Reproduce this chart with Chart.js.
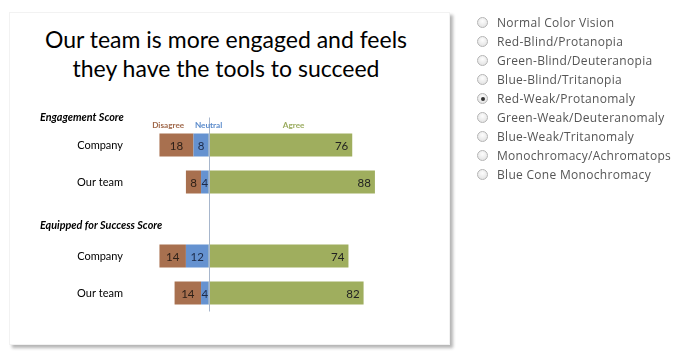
<!DOCTYPE html>
<html>
<head>
<meta charset="utf-8">
<script src="https://cdn.jsdelivr.net/npm/chart.js@4"></script>
<style>
  html, body { margin:0; padding:0; background:#fff; width:675px; height:355px; overflow:hidden; }
  #card { position:absolute; left:9px; top:12px; width:441px; height:333px; background:#fff;
          box-shadow: 3px 3px 3px #b5b5b5; border:1px solid #f2f2f2; box-sizing:border-box; }
  #title { position:absolute; left:9px; top:25px; width:434px; text-align:center;
           font-family: Lato, "Open Sans", sans-serif; font-size:23px; line-height:29px; color:#000; }
  #wrap { position:absolute; left:0; top:0; width:675px; height:355px; }
  #radios { position:absolute; left:477px; top:13px; font-family:"Open Sans", sans-serif; font-size:12px; letter-spacing:0.3px; color:#555; }
  .r { height:19px; line-height:19px; display:flex; align-items:center; white-space:nowrap; }
  .c { width:11px; height:11px; border-radius:50%; border:1px solid #b4b4b4; box-sizing:border-box;
       background: radial-gradient(circle at 50% 35%, #fdfdfd 0%, #e4e4e4 80%); margin-right:9px; position:relative; }
  .c.on::after { content:""; position:absolute; left:2.5px; top:2.5px; width:4px; height:4px; border-radius:50%; background:#333; }
</style>
</head>
<body>
<div id="card"></div>
<div id="title">Our team is more engaged and feels<br>they have the tools to succeed</div>
<div id="wrap"><canvas id="c" width="675" height="355"></canvas></div>
<div id="radios"></div>
<script>
// ---- data ----
const categories = ['Company', 'Our team', '', 'Company', 'Our team'];
const groupTitles = ['Engagement Score', 'Equipped for Success Score'];
const disagree = [18, 8, null, 14, 14];
const neutral  = [8, 4, null, 12, 4];
const agree    = [76, 88, null, 74, 82];
const seriesNames = ['Disagree', 'Neutral', 'Agree'];
const visionOptions = ['Normal Color Vision','Red-Blind/Protanopia','Green-Blind/Deuteranopia','Blue-Blind/Tritanopia','Red-Weak/Protanomaly','Green-Weak/Deuteranomaly','Blue-Weak/Tritanomaly','Monochromacy/Achromatops','Blue Cone Monochromacy'];
const selectedVision = 'Red-Weak/Protanomaly';

// radios
const rd = document.getElementById('radios');
visionOptions.forEach(o => {
  const d = document.createElement('div'); d.className = 'r';
  const c = document.createElement('span'); c.className = 'c' + (o === selectedVision ? ' on' : '');
  const t = document.createElement('span'); t.textContent = o;
  d.appendChild(c); d.appendChild(t); rd.appendChild(d);
});

const colors = { Disagree: '#a8704f', Neutral: '#6592d0', Agree: '#9fae5e' };
const headerColors = { Disagree: '#a0684a', Neutral: '#5b8bcb', Agree: '#9aab5e' };
const neg = a => a.map(v => v == null ? null : -v);

const overlay = {
  id: 'overlay',
  afterDatasetsDraw(chart) {
    const ctx = chart.ctx, xs = chart.scales.x, ys = chart.scales.y, area = chart.chartArea;
    const x0 = xs.getPixelForValue(0);
    ctx.save();
    // zero line
    ctx.strokeStyle = '#a7b6cc'; ctx.lineWidth = 1;
    ctx.beginPath(); ctx.moveTo(Math.round(x0) + 0.5, area.top - 9); ctx.lineTo(Math.round(x0) + 0.5, area.bottom); ctx.stroke();
    // data labels
    ctx.font = '11.5px Lato, "Open Sans", sans-serif'; ctx.textBaseline = 'middle';
    chart.data.datasets.forEach((ds, di) => {
      const meta = chart.getDatasetMeta(di);
      meta.data.forEach((el, i) => {
        const v = ds.data[i]; if (v == null) return;
        const txt = String(Math.abs(v));
        if (ds.label === 'Agree') {
          ctx.fillStyle = '#222'; ctx.textAlign = 'right';
          ctx.fillText(txt, el.x - 4, el.y + 1);
        } else {
          ctx.fillStyle = ds.label === 'Neutral' ? '#1c2a48' : '#2e2018'; ctx.textAlign = 'center';
          ctx.fillText(txt, (el.x + el.base) / 2, el.y + 1);
        }
      });
    });
    // column headers
    ctx.font = 'bold 8.2px Lato, "Open Sans", sans-serif'; ctx.textAlign = 'center';
    const hx = { Disagree: -21.4, Neutral: 0, Agree: 45 };
    seriesNames.forEach(n => {
      ctx.fillStyle = headerColors[n];
      ctx.fillText(n, xs.getPixelForValue(hx[n]), area.top - 1.5);
    });
    // group titles
    ctx.font = 'italic bold 10.8px Lato, "Open Sans", sans-serif'; ctx.textAlign = 'left'; ctx.fillStyle = '#000';
    ctx.fillText(groupTitles[0], 40, ys.getPixelForValue(0) - 27);
    ctx.fillText(groupTitles[1], 40, ys.getPixelForValue(3) - 30);
    ctx.restore();
  }
};

new Chart(document.getElementById('c'), {
  type: 'bar',
  data: {
    labels: categories,
    datasets: [
      { label: 'Neutral',  data: neg(neutral),  backgroundColor: colors.Neutral,  stack: 's' },
      { label: 'Disagree', data: neg(disagree), backgroundColor: colors.Disagree, stack: 's' },
      { label: 'Agree',    data: agree,         backgroundColor: colors.Agree,    stack: 's' }
    ]
  },
  options: {
    indexAxis: 'y',
    responsive: false,
    animation: false,
    layout: { padding: { left: 0, right: 277.4, top: 126.5, bottom: 43.5 } },
    plugins: { legend: { display: false }, tooltip: { enabled: false }, title: { display: false } },
    datasets: { bar: { barPercentage: 0.62, categoryPercentage: 1.0, borderWidth: 0 } },
    scales: {
      x: { stacked: true, min: -40, max: 100, display: false },
      y: {
        stacked: true,
        grid: { display: false, drawTicks: false },
        border: { display: false },
        ticks: { color: '#000', padding: 10, font: { family: 'Lato, "Open Sans", sans-serif', size: 11 } },
        afterFit: s => { s.width = 133; }
      }
    }
  },
  plugins: [overlay]
});
</script>
</body>
</html>
